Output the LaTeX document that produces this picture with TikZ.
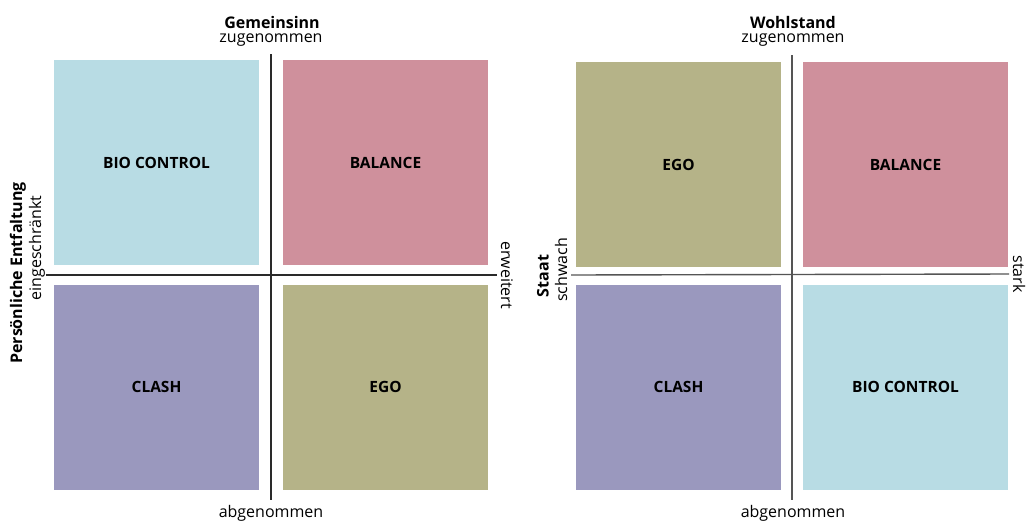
\documentclass[tikz,border=0pt]{standalone}
\usepackage{fontspec}
\setmainfont{Open Sans}
\definecolor{cblue}{HTML}{B8DCE4}
\definecolor{cpink}{HTML}{CF909C}
\definecolor{colive}{HTML}{B5B388}
\definecolor{cpurple}{HTML}{9A98BE}
\definecolor{axisgray}{HTML}{2A2A2A}
\definecolor{axisgray2}{HTML}{555555}
\begin{document}
\begin{tikzpicture}[x=1pt,y=-1pt,
  quad/.style={draw=none,minimum width=205pt,minimum height=205pt,inner sep=0pt,
    font=\fontsize{15.5}{18}\selectfont\bfseries},
  axisline/.style={draw=axisgray,line width=1.4pt},
  ttl/.style={font=\fontsize{16}{18}\selectfont\bfseries,inner sep=0pt},
  lbl/.style={font=\fontsize{16}{18}\selectfont,inner sep=0pt}]
\useasboundingbox[fill=white] (0,0) rectangle (1026,523);
% ---------- left panel ----------
\node[quad,fill=cblue]   (l1) at (156.5,162.5) {BIO CONTROL};
\node[quad,fill=cpink]   (l2) at (385.5,162.5) {BALANCE};
\node[quad,fill=cpurple] (l3) at (156.5,387)   {CLASH};
\node[quad,fill=colive]  (l4) at (385.5,387)   {EGO};
\coordinate (lt) at (271,54);
\coordinate (lb) at (271,500);
\coordinate (ll) at (46,275);
\coordinate (lr) at (497,275);
\draw[axisline] (lt) -- (lb);
\draw[axisline] (ll) -- (lr);
\node[ttl] (lgt) at (272,22) {Gemeinsinn};
\node[lbl] (lgz) at (271,40) {zugenommen};
\node[lbl] (lga) at (271,513) {abgenommen};
\node[ttl,rotate=90] (lpe) at (18,273) {Persönliche Entfaltung};
\node[lbl,rotate=90] (lpg) at (37,248) {eingeschränkt};
\node[lbl,rotate=-90] (lpw) at (507,275) {erweitert};
% ---------- right panel ----------
\node[quad,fill=colive]  (r1) at (678.5,164.5) {EGO};
\node[quad,fill=cpink]   (r2) at (905.5,164.5) {BALANCE};
\node[quad,fill=cpurple] (r3) at (678.5,387)   {CLASH};
\node[quad,fill=cblue]   (r4) at (905.5,387)   {BIO CONTROL};
\coordinate (rt) at (792,55);
\coordinate (rb) at (792,500);
\coordinate (rl) at (571,275);
\coordinate (rr) at (1009,274);
\draw[axisline,draw=axisgray2] (rt) -- (rb);
\draw[axisline,draw=axisgray2] (rl) -- (rr);
\node[ttl] (rgt) at (793,22) {Wohlstand};
\node[lbl] (rgz) at (793,40) {zugenommen};
\node[lbl] (rga) at (793,513) {abgenommen};
\node[ttl,rotate=90] (rst) at (543,276) {Staat};
\node[lbl,rotate=90] (rsw) at (561,270) {schwach};
\node[lbl,rotate=-90] (rsk) at (1019,274) {stark};
\end{tikzpicture}
\end{document}
